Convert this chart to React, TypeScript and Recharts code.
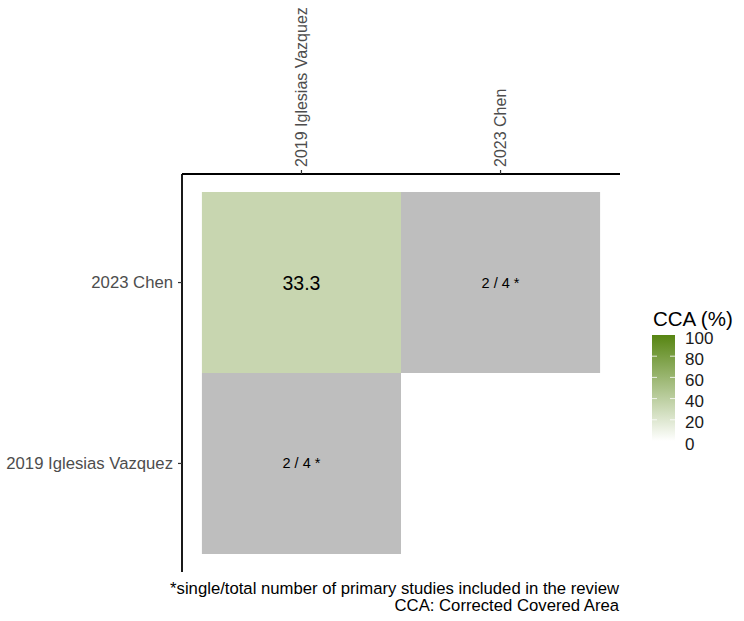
import React from "react";
import { ScatterChart, Scatter, XAxis, YAxis, ReferenceArea } from "recharts";

const studies = ["2019 Iglesias Vazquez", "2023 Chen"];
const cellCols = ["2019 Iglesias Vazquez", "2023 Chen", "2019 Iglesias Vazquez"];
const cellRows = ["2023 Chen", "2023 Chen", "2019 Iglesias Vazquez"];
const cellCca: (number | null)[] = [33.3, null, null];
const cellLabels = ["33.3", "2 / 4 *", "2 / 4 *"];
const legendTicks = [0, 20, 40, 60, 80, 100];
const captionLines = [
  "*single/total number of primary studies included in the review",
  "CCA: Corrected Covered Area",
];

const FONT = "'Liberation Sans', Arial, sans-serif";
const HIGH = "#578512";
const GRAY = "#bebebe";
const TILE_33 = "#c8d6b0";

const cells = cellCols.map((c, i) => ({
  x: studies.indexOf(c) + 1,
  y: studies.indexOf(cellRows[i]) + 1,
  cca: cellCca[i],
  label: cellLabels[i],
}));

const XTick = (props: any) => {
  const { x, y, payload } = props;
  const ty = y - 1;
  return (
    <text
      x={x}
      y={ty}
      transform={`rotate(-90 ${x} ${ty})`}
      textAnchor="start"
      dominantBaseline="central"
      fill="#4d4d4d"
      fontSize={16}
      fontFamily={FONT}
    >
      {studies[payload.value - 1]}
    </text>
  );
};

const YTick = (props: any) => {
  const { x, y, payload } = props;
  return (
    <text
      x={x - 3}
      y={y}
      textAnchor="end"
      dominantBaseline="central"
      fill="#4d4d4d"
      fontSize={16.7}
      fontFamily={FONT}
    >
      {studies[payload.value - 1]}
    </text>
  );
};

const LabelShape = (props: any) => {
  const { cx, cy, payload } = props;
  const big = payload.cca !== null;
  return (
    <text
      x={cx}
      y={cy}
      textAnchor="middle"
      dominantBaseline="central"
      fill="#000"
      fontSize={big ? 19.5 : 14.5}
      fontFamily={FONT}
    >
      {payload.label}
    </text>
  );
};

export default function App() {
  const barX = 652;
  const barW = 23;
  const barTop = 335;
  const barBot = 441;
  const vy = (v: number) => barBot - (v / 100) * (barBot - barTop);
  return (
    <div style={{ position: "absolute", left: 0, top: 0, width: 744, height: 621, background: "#fff" }}>
      <ScatterChart width={744} height={621} margin={{ top: 0, right: 124, bottom: 49, left: 0 }}>
        <XAxis
          type="number"
          dataKey="x"
          orientation="top"
          domain={[0.4, 2.6]}
          ticks={[1, 2]}
          allowDataOverflow
          height={174}
          axisLine={{ stroke: "#000", strokeWidth: 1.8 }}
          tickLine={{ stroke: "#333", strokeWidth: 1.2 }}
          tickSize={4}
          tick={<XTick />}
        />
        <YAxis
          type="number"
          dataKey="y"
          domain={[0.4, 2.6]}
          ticks={[1, 2]}
          allowDataOverflow
          width={182}
          axisLine={{ stroke: "#000", strokeWidth: 1.8 }}
          tickLine={{ stroke: "#333", strokeWidth: 1.2 }}
          tickSize={4}
          tick={<YTick />}
        />
        {cells.map((c, i) => (
          <ReferenceArea
            key={i}
            x1={c.x - 0.5}
            x2={c.x + 0.5}
            y1={c.y - 0.5}
            y2={c.y + 0.5}
            fill={c.cca === null ? GRAY : TILE_33}
            fillOpacity={1}
            stroke="none"
          />
        ))}
        <Scatter data={cells} isAnimationActive={false} shape={<LabelShape />} />
      </ScatterChart>
      <svg
        width={744}
        height={621}
        style={{ position: "absolute", left: 0, top: 0, pointerEvents: "none" }}
      >
        <defs>
          <linearGradient id="ccaGrad" x1="0" y1="1" x2="0" y2="0">
            <stop offset="0%" stopColor="#ffffff" />
            <stop offset="100%" stopColor={HIGH} />
          </linearGradient>
        </defs>
        <text x={653} y={326} fontSize={20.5} fontFamily={FONT} fill="#000">
          CCA (%)
        </text>
        <rect x={barX} y={barTop} width={barW} height={barBot - barTop} fill="url(#ccaGrad)" />
        {legendTicks.map((t) => (
          <g key={t}>
            {t > 0 && t < 100 && (
              <>
                <line x1={barX} x2={barX + 5} y1={vy(t)} y2={vy(t)} stroke="#fff" strokeOpacity={0.8} />
                <line x1={barX + barW - 5} x2={barX + barW} y1={vy(t)} y2={vy(t)} stroke="#fff" strokeOpacity={0.8} />
              </>
            )}
            <text
              x={685}
              y={vy(t) + 3}
              dominantBaseline="central"
              fontSize={17}
              fontFamily={FONT}
              fill="#1a1a1a"
            >
              {t}
            </text>
          </g>
        ))}
        {captionLines.map((l, i) => (
          <text
            key={i}
            x={619}
            y={594 + i * 17}
            textAnchor="end"
            fontSize={16.7}
            fontFamily={FONT}
            fill="#000"
          >
            {l}
          </text>
        ))}
      </svg>
    </div>
  );
}
